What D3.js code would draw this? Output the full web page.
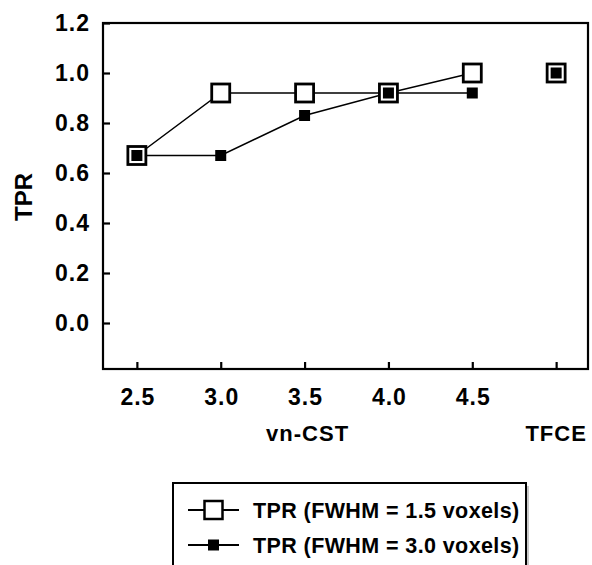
<!DOCTYPE html>
<html>
<head>
<meta charset="utf-8">
<script src="https://cdn.jsdelivr.net/npm/d3@7"></script>
<style>
  body { margin: 0; background: #fff; }
  text { font-family: "Liberation Sans", Arial, sans-serif; font-weight: bold; fill: #000; }
</style>
</head>
<body>
<svg id="chart" width="592" height="565"></svg>
<script>
const xValues = [2.5, 3.0, 3.5, 4.0, 4.5];
const tfceX = 5.0;
const tpr15 = [0.67, 0.92, 0.92, 0.92, 1.0];
const tpr30 = [0.67, 0.67, 0.83, 0.92, 0.92];
const tfce15 = 1.0;
const tfce30 = 1.0;
const yTicks = [0.0, 0.2, 0.4, 0.6, 0.8, 1.0, 1.2];
const xTicks = [2.5, 3.0, 3.5, 4.0, 4.5, 5.0];
const legendLabels = ["TPR (FWHM = 1.5 voxels)", "TPR (FWHM = 3.0 voxels)"];

const svg = d3.select("#chart");
const plotL = 103, plotR = 588, plotT = 23, plotB = 369;

const x = d3.scaleLinear().domain([2.298, 5.19]).range([plotL, plotR]);
const y = d3.scaleLinear().domain([-0.184, 1.2]).range([plotB, plotT]);

// frame
svg.append("rect")
  .attr("x", plotL).attr("y", plotT)
  .attr("width", plotR - plotL).attr("height", plotB - plotT)
  .attr("fill", "none").attr("stroke", "#000").attr("stroke-width", 2.2);

// y axis, ticks inward
const yAxis = svg.append("g")
  .attr("transform", `translate(${plotL},0)`)
  .call(d3.axisRight(y).tickValues(yTicks).tickSize(7).tickFormat(""));
yAxis.select(".domain").remove();
yAxis.selectAll("line").attr("stroke-width", 2.2);

yAxis.selectAll(".ylab")
  .data(yTicks)
  .enter()
  .append("text")
  .attr("class", "ylab")
  .attr("x", -13)
  .attr("y", (d) => y(d))
  .attr("dy", "0.36em")
  .attr("text-anchor", "end")
  .style("font-size", "23px")
  .style("letter-spacing", "1px")
  .text((d) => d3.format(".1f")(d));

// x axis, ticks inward
const xAxis = svg.append("g")
  .attr("transform", `translate(0,${plotB})`)
  .call(d3.axisTop(x).tickValues(xTicks).tickSize(7).tickFormat(""));
xAxis.select(".domain").remove();
xAxis.selectAll("line").attr("stroke-width", 2.2);

xAxis.selectAll(".xlab")
  .data(xValues)
  .enter()
  .append("text")
  .attr("class", "xlab")
  .attr("x", (d) => x(d) + 1)
  .attr("y", 36)
  .attr("text-anchor", "middle")
  .style("font-size", "23px")
  .style("letter-spacing", "1px")
  .text((d) => d3.format(".1f")(d));

svg.append("text")
  .attr("x", x(3.5) + 3).attr("y", 441)
  .attr("text-anchor", "middle")
  .style("font-size", "22px")
  .style("letter-spacing", "1px")
  .text("vn-CST");

svg.append("text")
  .attr("x", x(tfceX)).attr("y", 441)
  .attr("text-anchor", "middle")
  .style("font-size", "22px")
  .style("letter-spacing", "1px")
  .text("TFCE");

svg.append("text")
  .attr("transform", `translate(32,197) rotate(-90)`)
  .attr("text-anchor", "middle")
  .style("font-size", "24px")
  .text("TPR");

// lines
const line = d3.line().x((d) => x(d[0])).y((d) => y(d[1]));
const pts15 = xValues.map((v, i) => [v, tpr15[i]]);
const pts30 = xValues.map((v, i) => [v, tpr30[i]]);

svg.append("path").datum(pts15).attr("d", line)
  .attr("fill", "none").attr("stroke", "#000").attr("stroke-width", 1.5);
svg.append("path").datum(pts30).attr("d", line)
  .attr("fill", "none").attr("stroke", "#000").attr("stroke-width", 1.5);

const big = 18, small = 11;
svg.selectAll("rect.open")
  .data(pts15.concat([[tfceX, tfce15]]))
  .enter()
  .append("rect")
  .classed("open", true)
  .attr("x", (d) => x(d[0]) - big / 2)
  .attr("y", (d) => y(d[1]) - big / 2)
  .attr("width", big).attr("height", big)
  .attr("fill", "#fff").attr("stroke", "#000").attr("stroke-width", 2.8);

svg.selectAll("rect.solid")
  .data(pts30.concat([[tfceX, tfce30]]))
  .enter()
  .append("rect")
  .classed("solid", true)
  .attr("x", (d) => x(d[0]) - small / 2)
  .attr("y", (d) => y(d[1]) - small / 2)
  .attr("width", small).attr("height", small)
  .attr("fill", "#000");

// legend
const lg = svg.append("g").attr("transform", "translate(173,483)");
lg.append("rect")
  .attr("x", 3).attr("y", 3).attr("width", 353).attr("height", 100)
  .attr("fill", "#c8c8c8");
lg.append("rect")
  .attr("x", 0).attr("y", 0).attr("width", 353).attr("height", 100)
  .attr("fill", "#fff").attr("stroke", "#000").attr("stroke-width", 2);

const rows = lg.selectAll("g.row")
  .data(legendLabels)
  .enter()
  .append("g")
  .classed("row", true)
  .attr("transform", (d, i) => `translate(0,${27 + i * 35})`);

rows.append("line")
  .attr("x1", 15).attr("x2", 66).attr("y1", 0).attr("y2", 0)
  .attr("stroke", "#000").attr("stroke-width", 1.8);
rows.filter((d, i) => i === 0).append("rect")
  .attr("x", 31.5).attr("y", -9).attr("width", 18).attr("height", 18)
  .attr("fill", "#fff").attr("stroke", "#000").attr("stroke-width", 2.5);
rows.filter((d, i) => i === 1).append("rect")
  .attr("x", 35).attr("y", -5.5).attr("width", 11).attr("height", 11)
  .attr("fill", "#000");
rows.append("text")
  .attr("x", 80).attr("y", 0).attr("dy", "0.36em")
  .style("font-size", "21.5px")
  .style("letter-spacing", "0.4px")
  .text((d) => d);
</script>
</body>
</html>
